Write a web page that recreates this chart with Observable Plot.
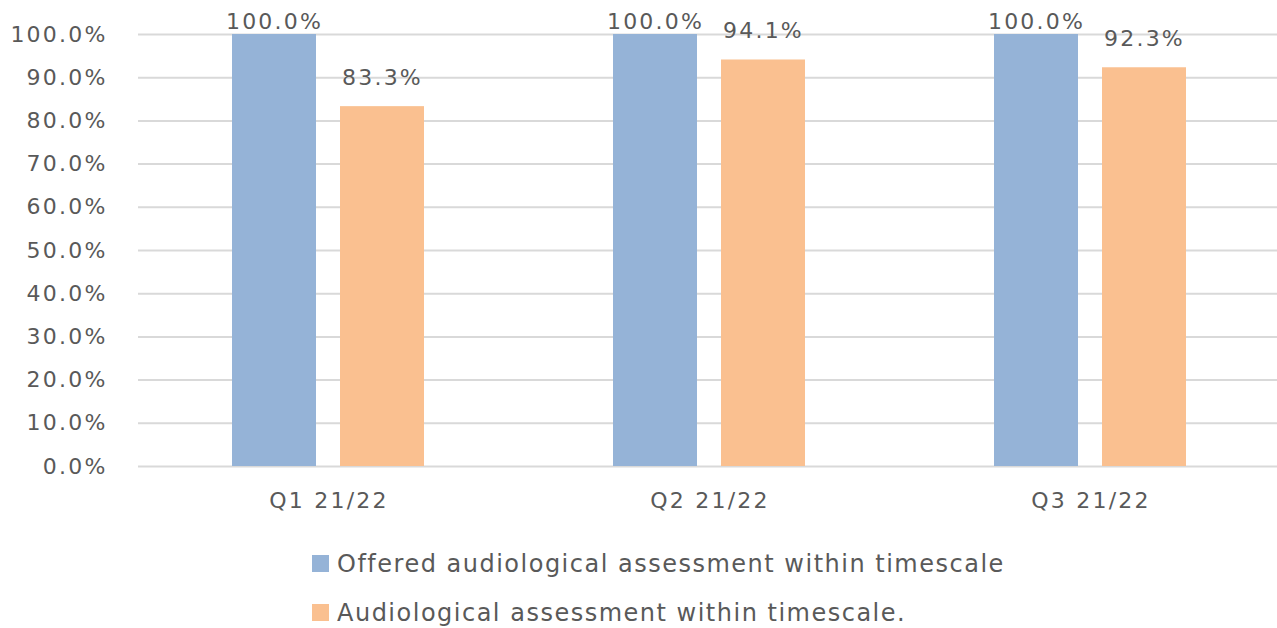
<!DOCTYPE html>
<html>
<head>
<meta charset="utf-8">
<script src="https://cdn.jsdelivr.net/npm/d3@7"></script>
<script src="https://cdn.jsdelivr.net/npm/@observablehq/plot@0.6"></script>
<style>
  body { margin: 0; background: #fff; font-family: "DejaVu Sans", sans-serif; }
  #legend { margin-left: 312px; margin-top: 9px; color: #595959; font-size: 24px; letter-spacing: 1.5px; }
  .row { display: flex; align-items: center; height: 49px; }
  .sw { width: 17px; height: 17px; margin-right: 8px; }
</style>
</head>
<body>
<div id="chart"></div>
<div id="legend"></div>
<script>
const quarters = ["Q1 21/22", "Q2 21/22", "Q3 21/22"];
const seriesNames = ["Offered audiological assessment within timescale", "Audiological assessment within timescale."];
const offered = [100.0, 100.0, 100.0];
const assessed = [83.3, 94.1, 92.3];
const colors = ["#95B3D7", "#FAC090"];
const yTicks = [0, 10, 20, 30, 40, 50, 60, 70, 80, 90, 100];

const rows = [];
quarters.forEach((q, i) => {
  rows.push({quarter: q, series: seriesNames[0], value: offered[i]});
  rows.push({quarter: q, series: seriesNames[1], value: assessed[i]});
});

const fmt = v => v.toFixed(1) + "%";

const chart = Plot.plot({
  width: 1277,
  height: 530,
  marginTop: 34,
  marginBottom: 64,
  marginLeft: 138,
  marginRight: -4,
  style: {fontFamily: "DejaVu Sans, sans-serif", fontSize: "22px", letterSpacing: "2.2px", color: "#595959", background: "#fff", overflow: "hidden"},
  fx: {domain: quarters, padding: 0, label: null, tickSize: 0, tickPadding: 26},
  x: {domain: seriesNames, axis: null, paddingInner: 0.22, paddingOuter: 0.858},
  y: {domain: [0, 100], ticks: yTicks, tickFormat: fmt, label: null, tickSize: 0, tickPadding: 31},
  color: {domain: seriesNames, range: colors},
  marks: [
    Plot.gridY(yTicks, {stroke: "#d9d9d9", strokeOpacity: 1, strokeWidth: 2}),
    Plot.barY(rows, {fx: "quarter", x: "series", y: "value", fill: "series"}),
    Plot.text(rows.filter(d => d.series === seriesNames[0]), {fx: "quarter", x: "series", y: "value", text: d => fmt(d.value), dy: -13, fill: "#595959", fontSize: 22}),
    Plot.text(rows.filter(d => d.series === seriesNames[1]), {fx: "quarter", x: "series", y: "value", text: d => fmt(d.value), dy: -29, fill: "#595959", fontSize: 22})
  ]
});
document.getElementById("chart").appendChild(chart);

const legend = document.getElementById("legend");
seriesNames.forEach((s, i) => {
  const row = document.createElement("div");
  row.className = "row";
  const sw = document.createElement("div");
  sw.className = "sw";
  sw.style.background = colors[i];
  const t = document.createElement("span");
  t.textContent = s;
  row.appendChild(sw);
  row.appendChild(t);
  legend.appendChild(row);
});
</script>
</body>
</html>
